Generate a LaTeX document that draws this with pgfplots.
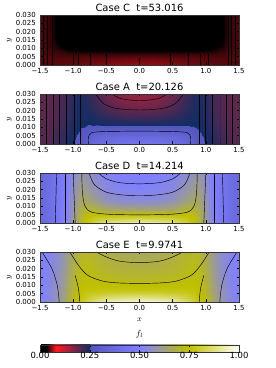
\documentclass[border=0pt]{standalone}
\usepackage{fontspec}
\setmainfont{DejaVu Sans}
\usepackage{pgfplots}
\pgfplotsset{compat=1.18}
\definecolor{axgray}{gray}{0.2}
\pgfplotsset{
 colormap={fl}{rgb255(0)=(0,0,0) rgb255(30)=(0,0,0) rgb255(80)=(255,25,35) rgb255(249)=(15,45,100) rgb255(250)=(85,85,190) rgb255(500)=(128,128,255) rgb255(750)=(192,192,0) rgb255(1000)=(255,255,255)},
 pan/.style={scale only axis, width=199bp, height=50bp, xmin=-1.5, xmax=1.5, ymin=0, ymax=0.03,
  colormap name=fl, point meta min=0, point meta max=1, axis on top, tick align=inside, major tick length=2.5bp,
  xtick={-1.5,-1,-0.5,0,0.5,1,1.5}, xticklabels={−1.5,−1.0,−0.5,0.0,0.5,1.0,1.5},
  ytick={0,0.005,0.01,0.015,0.02,0.025,0.03}, yticklabels={0.000,0.005,0.010,0.015,0.020,0.025,0.030},
  scaled y ticks=false, scaled x ticks=false,
  tick label style={font=\fontsize{7}{7}\selectfont, inner sep=0.5bp},
  xticklabel style={yshift=-3bp}, yticklabel style={xshift=-3.5bp},
  title style={font=\fontsize{10}{10}\selectfont, at={(0.5,1)}, anchor=south, inner sep=0pt, yshift=-3bp},
  ylabel={$y$}, ylabel style={font=\fontsize{8}{8}\selectfont},
  axis line style={axgray, line width=0.7bp}, every tick/.style={black, line width=0.5bp}, anchor=south west},
 cl/.style={black, line width=0.45bp, no marks, smooth},
 sf/.style={surf, shader=interp, mesh/cols=23, point meta=\thisrow{f}},
}
\begin{document}
\begin{tikzpicture}
\useasboundingbox (0,0) rectangle (276bp,368bp);
% ---------------- Case C
\begin{axis}[pan, at={(40bp,303bp)}, title={Case C\ \ t=53.016}]
\addplot[sf] table[row sep=\\] {x y f\\
-1.5 0 .046\\ -1.4 0 .046\\ -1.3 0 .047\\ -1.2 0 .047\\ -1.1 0 .048\\ -1 0 .049\\ -.9 0 .05\\ -.8 0 .052\\ -.7 0 .053\\ -.5 0 .056\\ -.25 0 .058\\ 0 0 .06\\ .25 0 .058\\ .5 0 .056\\ .7 0 .053\\ .8 0 .052\\ .9 0 .05\\ 1 0 .049\\ 1.1 0 .048\\ 1.2 0 .047\\ 1.3 0 .047\\ 1.4 0 .046\\ 1.5 0 .046\\
-1.5 .002 .046\\ -1.4 .002 .046\\ -1.3 .002 .047\\ -1.2 .002 .047\\ -1.1 .002 .047\\ -1 .002 .048\\ -.9 .002 .049\\ -.8 .002 .05\\ -.7 .002 .051\\ -.5 .002 .053\\ -.25 .002 .055\\ 0 .002 .056\\ .25 .002 .055\\ .5 .002 .053\\ .7 .002 .051\\ .8 .002 .05\\ .9 .002 .049\\ 1 .002 .048\\ 1.1 .002 .047\\ 1.2 .002 .047\\ 1.3 .002 .047\\ 1.4 .002 .046\\ 1.5 .002 .046\\
-1.5 .004 .046\\ -1.4 .004 .046\\ -1.3 .004 .046\\ -1.2 .004 .046\\ -1.1 .004 .046\\ -1 .004 .046\\ -.9 .004 .046\\ -.8 .004 .047\\ -.7 .004 .047\\ -.5 .004 .048\\ -.25 .004 .049\\ 0 .004 .05\\ .25 .004 .049\\ .5 .004 .048\\ .7 .004 .047\\ .8 .004 .047\\ .9 .004 .046\\ 1 .004 .046\\ 1.1 .004 .046\\ 1.2 .004 .046\\ 1.3 .004 .046\\ 1.4 .004 .046\\ 1.5 .004 .046\\
-1.5 .006 .045\\ -1.4 .006 .045\\ -1.3 .006 .044\\ -1.2 .006 .043\\ -1.1 .006 .043\\ -1 .006 .043\\ -.9 .006 .043\\ -.8 .006 .043\\ -.7 .006 .043\\ -.5 .006 .043\\ -.25 .006 .043\\ 0 .006 .043\\ .25 .006 .043\\ .5 .006 .043\\ .7 .006 .043\\ .8 .006 .043\\ .9 .006 .043\\ 1 .006 .043\\ 1.1 .006 .043\\ 1.2 .006 .043\\ 1.3 .006 .044\\ 1.4 .006 .045\\ 1.5 .006 .045\\
-1.5 .008 .045\\ -1.4 .008 .044\\ -1.3 .008 .042\\ -1.2 .008 .04\\ -1.1 .008 .037\\ -1 .008 .036\\ -.9 .008 .035\\ -.8 .008 .035\\ -.7 .008 .035\\ -.5 .008 .035\\ -.25 .008 .035\\ 0 .008 .035\\ .25 .008 .035\\ .5 .008 .035\\ .7 .008 .035\\ .8 .008 .035\\ .9 .008 .035\\ 1 .008 .036\\ 1.1 .008 .037\\ 1.2 .008 .04\\ 1.3 .008 .042\\ 1.4 .008 .044\\ 1.5 .008 .045\\
-1.5 .01 .045\\ -1.4 .01 .043\\ -1.3 .01 .039\\ -1.2 .01 .034\\ -1.1 .01 .028\\ -1 .01 .025\\ -.9 .01 .024\\ -.8 .01 .024\\ -.7 .01 .024\\ -.5 .01 .024\\ -.25 .01 .024\\ 0 .01 .024\\ .25 .01 .024\\ .5 .01 .024\\ .7 .01 .024\\ .8 .01 .024\\ .9 .01 .024\\ 1 .01 .025\\ 1.1 .01 .028\\ 1.2 .01 .034\\ 1.3 .01 .039\\ 1.4 .01 .043\\ 1.5 .01 .045\\
-1.5 .012 .045\\ -1.4 .012 .042\\ -1.3 .012 .038\\ -1.2 .012 .03\\ -1.1 .012 .02\\ -1 .012 .015\\ -.9 .012 .014\\ -.8 .012 .014\\ -.7 .012 .014\\ -.5 .012 .014\\ -.25 .012 .014\\ 0 .012 .014\\ .25 .012 .014\\ .5 .012 .014\\ .7 .012 .014\\ .8 .012 .014\\ .9 .012 .014\\ 1 .012 .015\\ 1.1 .012 .02\\ 1.2 .012 .03\\ 1.3 .012 .038\\ 1.4 .012 .042\\ 1.5 .012 .045\\
-1.5 .015 .045\\ -1.4 .015 .042\\ -1.3 .015 .037\\ -1.2 .015 .024\\ -1.1 .015 .014\\ -1 .015 .011\\ -.9 .015 .01\\ -.8 .015 .01\\ -.7 .015 .01\\ -.5 .015 .01\\ -.25 .015 .01\\ 0 .015 .01\\ .25 .015 .01\\ .5 .015 .01\\ .7 .015 .01\\ .8 .015 .01\\ .9 .015 .01\\ 1 .015 .011\\ 1.1 .015 .014\\ 1.2 .015 .024\\ 1.3 .015 .037\\ 1.4 .015 .042\\ 1.5 .015 .045\\
-1.5 .02 .045\\ -1.4 .02 .042\\ -1.3 .02 .036\\ -1.2 .02 .02\\ -1.1 .02 .012\\ -1 .02 .01\\ -.9 .02 .01\\ -.8 .02 .01\\ -.7 .02 .01\\ -.5 .02 .01\\ -.25 .02 .01\\ 0 .02 .01\\ .25 .02 .01\\ .5 .02 .01\\ .7 .02 .01\\ .8 .02 .01\\ .9 .02 .01\\ 1 .02 .01\\ 1.1 .02 .012\\ 1.2 .02 .02\\ 1.3 .02 .036\\ 1.4 .02 .042\\ 1.5 .02 .045\\
-1.5 .025 .045\\ -1.4 .025 .042\\ -1.3 .025 .036\\ -1.2 .025 .02\\ -1.1 .025 .012\\ -1 .025 .01\\ -.9 .025 .01\\ -.8 .025 .01\\ -.7 .025 .01\\ -.5 .025 .01\\ -.25 .025 .01\\ 0 .025 .01\\ .25 .025 .01\\ .5 .025 .01\\ .7 .025 .01\\ .8 .025 .01\\ .9 .025 .01\\ 1 .025 .01\\ 1.1 .025 .012\\ 1.2 .025 .02\\ 1.3 .025 .036\\ 1.4 .025 .042\\ 1.5 .025 .045\\
-1.5 .03 .045\\ -1.4 .03 .042\\ -1.3 .03 .036\\ -1.2 .03 .02\\ -1.1 .03 .012\\ -1 .03 .01\\ -.9 .03 .01\\ -.8 .03 .01\\ -.7 .03 .01\\ -.5 .03 .01\\ -.25 .03 .01\\ 0 .03 .01\\ .25 .03 .01\\ .5 .03 .01\\ .7 .03 .01\\ .8 .03 .01\\ .9 .03 .01\\ 1 .03 .01\\ 1.1 .03 .012\\ 1.2 .03 .02\\ 1.3 .03 .036\\ 1.4 .03 .042\\ 1.5 .03 .045\\
};
\addplot[cl] coordinates {(-1.45,0)(-1.45,.03)};
\addplot[cl] coordinates {(-1.39,0)(-1.39,.03)};
\addplot[cl] coordinates {(-1.32,0)(-1.32,.03)};
\addplot[cl] coordinates {(1.34,0)(1.34,.03)};
\addplot[cl] coordinates {(1.39,0)(1.39,.03)};
\addplot[cl] coordinates {(1.44,0)(1.44,.03)};
\addplot[cl] coordinates {(-1,0)(-1,.0065)};
\addplot[cl] coordinates {(-.92,0)(-.92,.0065)};
\addplot[cl] coordinates {(-.75,0)(-.75,.0065)};
\addplot[cl] coordinates {(-.5,0)(-.5,.0065)};
\addplot[cl] coordinates {(0,0)(0,.004)};
\addplot[cl] coordinates {(.46,0)(.46,.0065)};
\addplot[cl] coordinates {(.74,0)(.74,.0065)};
\addplot[cl] coordinates {(.91,0)(.91,.0065)};
\addplot[cl] coordinates {(1.04,0)(1.04,.0065)};
\end{axis}
% ---------------- Case A
\begin{axis}[pan, at={(40bp,224bp)}, title={Case A\ \ t=20.126}]
\addplot[sf] table[row sep=\\] {x y f\\
-1.5 0 .198\\ -1.4 0 .201\\ -1.3 0 .209\\ -1.2 0 .221\\ -1.1 0 .237\\ -1 0 .248\\ -.9 0 .26\\ -.8 0 .3\\ -.7 0 .355\\ -.5 0 .405\\ -.25 0 .425\\ 0 0 .43\\ .25 0 .425\\ .5 0 .405\\ .7 0 .355\\ .8 0 .3\\ .9 0 .26\\ 1 0 .248\\ 1.1 0 .237\\ 1.2 0 .221\\ 1.3 0 .209\\ 1.4 0 .201\\ 1.5 0 .198\\
-1.5 .002 .197\\ -1.4 .002 .2\\ -1.3 .002 .208\\ -1.2 .002 .22\\ -1.1 .002 .236\\ -1 .002 .247\\ -.9 .002 .258\\ -.8 .002 .29\\ -.7 .002 .345\\ -.5 .002 .385\\ -.25 .002 .4\\ 0 .002 .405\\ .25 .002 .4\\ .5 .002 .385\\ .7 .002 .345\\ .8 .002 .29\\ .9 .002 .258\\ 1 .002 .247\\ 1.1 .002 .236\\ 1.2 .002 .22\\ 1.3 .002 .208\\ 1.4 .002 .2\\ 1.5 .002 .197\\
-1.5 .004 .197\\ -1.4 .004 .2\\ -1.3 .004 .207\\ -1.2 .004 .219\\ -1.1 .004 .235\\ -1 .004 .246\\ -.9 .004 .255\\ -.8 .004 .28\\ -.7 .004 .33\\ -.5 .004 .36\\ -.25 .004 .37\\ 0 .004 .375\\ .25 .004 .37\\ .5 .004 .36\\ .7 .004 .33\\ .8 .004 .28\\ .9 .004 .255\\ 1 .004 .246\\ 1.1 .004 .235\\ 1.2 .004 .219\\ 1.3 .004 .207\\ 1.4 .004 .2\\ 1.5 .004 .197\\
-1.5 .006 .196\\ -1.4 .006 .199\\ -1.3 .006 .206\\ -1.2 .006 .217\\ -1.1 .006 .233\\ -1 .006 .245\\ -.9 .006 .252\\ -.8 .006 .27\\ -.7 .006 .305\\ -.5 .006 .33\\ -.25 .006 .338\\ 0 .006 .34\\ .25 .006 .338\\ .5 .006 .33\\ .7 .006 .305\\ .8 .006 .27\\ .9 .006 .252\\ 1 .006 .245\\ 1.1 .006 .233\\ 1.2 .006 .217\\ 1.3 .006 .206\\ 1.4 .006 .199\\ 1.5 .006 .196\\
-1.5 .008 .195\\ -1.4 .008 .198\\ -1.3 .008 .205\\ -1.2 .008 .215\\ -1.1 .008 .231\\ -1 .008 .244\\ -.9 .008 .25\\ -.8 .008 .26\\ -.7 .008 .28\\ -.5 .008 .295\\ -.25 .008 .3\\ 0 .008 .3\\ .25 .008 .3\\ .5 .008 .295\\ .7 .008 .28\\ .8 .008 .26\\ .9 .008 .25\\ 1 .008 .244\\ 1.1 .008 .231\\ 1.2 .008 .215\\ 1.3 .008 .205\\ 1.4 .008 .198\\ 1.5 .008 .195\\
-1.5 .01 .194\\ -1.4 .01 .197\\ -1.3 .01 .203\\ -1.2 .01 .213\\ -1.1 .01 .228\\ -1 .01 .242\\ -.9 .01 .248\\ -.8 .01 .25\\ -.7 .01 .255\\ -.5 .01 .257\\ -.25 .01 .258\\ 0 .01 .258\\ .25 .01 .258\\ .5 .01 .257\\ .7 .01 .255\\ .8 .01 .25\\ .9 .01 .248\\ 1 .01 .242\\ 1.1 .01 .228\\ 1.2 .01 .213\\ 1.3 .01 .203\\ 1.4 .01 .197\\ 1.5 .01 .194\\
-1.5 .012 .193\\ -1.4 .012 .196\\ -1.3 .012 .201\\ -1.2 .012 .211\\ -1.1 .012 .225\\ -1 .012 .24\\ -.9 .012 .247\\ -.8 .012 .248\\ -.7 .012 .246\\ -.5 .012 .244\\ -.25 .012 .242\\ 0 .012 .242\\ .25 .012 .242\\ .5 .012 .244\\ .7 .012 .246\\ .8 .012 .248\\ .9 .012 .247\\ 1 .012 .24\\ 1.1 .012 .225\\ 1.2 .012 .211\\ 1.3 .012 .201\\ 1.4 .012 .196\\ 1.5 .012 .193\\
-1.5 .015 .192\\ -1.4 .015 .195\\ -1.3 .015 .2\\ -1.2 .015 .209\\ -1.1 .015 .222\\ -1 .015 .238\\ -.9 .015 .246\\ -.8 .015 .245\\ -.7 .015 .24\\ -.5 .015 .232\\ -.25 .015 .224\\ 0 .015 .222\\ .25 .015 .224\\ .5 .015 .232\\ .7 .015 .24\\ .8 .015 .245\\ .9 .015 .246\\ 1 .015 .238\\ 1.1 .015 .222\\ 1.2 .015 .209\\ 1.3 .015 .2\\ 1.4 .015 .195\\ 1.5 .015 .192\\
-1.5 .02 .191\\ -1.4 .02 .194\\ -1.3 .02 .199\\ -1.2 .02 .207\\ -1.1 .02 .219\\ -1 .02 .236\\ -.9 .02 .244\\ -.8 .02 .24\\ -.7 .02 .23\\ -.5 .02 .21\\ -.25 .02 .195\\ 0 .02 .19\\ .25 .02 .195\\ .5 .02 .21\\ .7 .02 .23\\ .8 .02 .24\\ .9 .02 .244\\ 1 .02 .236\\ 1.1 .02 .219\\ 1.2 .02 .207\\ 1.3 .02 .199\\ 1.4 .02 .194\\ 1.5 .02 .191\\
-1.5 .025 .19\\ -1.4 .025 .193\\ -1.3 .025 .198\\ -1.2 .025 .206\\ -1.1 .025 .217\\ -1 .025 .234\\ -.9 .025 .242\\ -.8 .025 .236\\ -.7 .025 .222\\ -.5 .025 .195\\ -.25 .025 .172\\ 0 .025 .165\\ .25 .025 .172\\ .5 .025 .195\\ .7 .025 .222\\ .8 .025 .236\\ .9 .025 .242\\ 1 .025 .234\\ 1.1 .025 .217\\ 1.2 .025 .206\\ 1.3 .025 .198\\ 1.4 .025 .193\\ 1.5 .025 .19\\
-1.5 .03 .19\\ -1.4 .03 .193\\ -1.3 .03 .198\\ -1.2 .03 .205\\ -1.1 .03 .215\\ -1 .03 .232\\ -.9 .03 .24\\ -.8 .03 .232\\ -.7 .03 .215\\ -.5 .03 .185\\ -.25 .03 .16\\ 0 .03 .15\\ .25 .03 .16\\ .5 .03 .185\\ .7 .03 .215\\ .8 .03 .232\\ .9 .03 .24\\ 1 .03 .232\\ 1.1 .03 .215\\ 1.2 .03 .205\\ 1.3 .03 .198\\ 1.4 .03 .193\\ 1.5 .03 .19\\
};
\addplot[cl] coordinates {(-.42,.03)(-.3,.0275)(-.15,.0264)(0,.0261)(.15,.0264)(.3,.0275)(.42,.03)};
\addplot[cl] coordinates {(-.66,.03)(-.55,.0245)(-.4,.0218)(-.2,.0207)(0,.0204)(.2,.0207)(.4,.0218)(.55,.0245)(.66,.03)};
\addplot[cl] coordinates {(-.77,0)(-.77,.004)(-.72,.0068)(-.5,.0075)(0,.0077)(.5,.0075)(.72,.0068)(.77,.004)(.77,0)};
\addplot[cl] coordinates {(-.9,0)(-.9,.03)};
\addplot[cl] coordinates {(-.99,0)(-.99,.03)};
\addplot[cl] coordinates {(-1.1,0)(-1.1,.03)};
\addplot[cl] coordinates {(-1.21,0)(-1.21,.03)};
\addplot[cl] coordinates {(-1.3,0)(-1.3,.03)};
\addplot[cl] coordinates {(-1.4,0)(-1.4,.03)};
\addplot[cl] coordinates {(.9,0)(.9,.03)};
\addplot[cl] coordinates {(.99,0)(.99,.03)};
\addplot[cl] coordinates {(1.1,0)(1.1,.03)};
\addplot[cl] coordinates {(1.21,0)(1.21,.03)};
\addplot[cl] coordinates {(1.3,0)(1.3,.03)};
\addplot[cl] coordinates {(1.4,0)(1.4,.03)};
\end{axis}
% ---------------- Case D
\begin{axis}[pan, at={(40bp,145bp)}, title={Case D\ \ t=14.214}]
\addplot[sf] table[row sep=\\] {x y f\\
-1.5 0 .37\\ -1.4 0 .39\\ -1.3 0 .42\\ -1.2 0 .47\\ -1.1 0 .52\\ -1 0 .6\\ -.9 0 .7\\ -.8 0 .76\\ -.7 0 .81\\ -.5 0 .88\\ -.25 0 .92\\ 0 0 .93\\ .25 0 .92\\ .5 0 .88\\ .7 0 .81\\ .8 0 .76\\ .9 0 .7\\ 1 0 .6\\ 1.1 0 .52\\ 1.2 0 .47\\ 1.3 0 .42\\ 1.4 0 .39\\ 1.5 0 .37\\
-1.5 .002 .37\\ -1.4 .002 .39\\ -1.3 .002 .42\\ -1.2 .002 .47\\ -1.1 .002 .52\\ -1 .002 .595\\ -.9 .002 .7\\ -.8 .002 .75\\ -.7 .002 .79\\ -.5 .002 .83\\ -.25 .002 .85\\ 0 .002 .86\\ .25 .002 .85\\ .5 .002 .83\\ .7 .002 .79\\ .8 .002 .75\\ .9 .002 .7\\ 1 .002 .595\\ 1.1 .002 .52\\ 1.2 .002 .47\\ 1.3 .002 .42\\ 1.4 .002 .39\\ 1.5 .002 .37\\
-1.5 .004 .37\\ -1.4 .004 .39\\ -1.3 .004 .42\\ -1.2 .004 .47\\ -1.1 .004 .52\\ -1 .004 .59\\ -.9 .004 .69\\ -.8 .004 .74\\ -.7 .004 .76\\ -.5 .004 .77\\ -.25 .004 .775\\ 0 .004 .78\\ .25 .004 .775\\ .5 .004 .77\\ .7 .004 .76\\ .8 .004 .74\\ .9 .004 .69\\ 1 .004 .59\\ 1.1 .004 .52\\ 1.2 .004 .47\\ 1.3 .004 .42\\ 1.4 .004 .39\\ 1.5 .004 .37\\
-1.5 .006 .37\\ -1.4 .006 .39\\ -1.3 .006 .42\\ -1.2 .006 .465\\ -1.1 .006 .515\\ -1 .006 .59\\ -.9 .006 .68\\ -.8 .006 .72\\ -.7 .006 .73\\ -.5 .006 .71\\ -.25 .006 .71\\ 0 .006 .71\\ .25 .006 .71\\ .5 .006 .71\\ .7 .006 .73\\ .8 .006 .72\\ .9 .006 .68\\ 1 .006 .59\\ 1.1 .006 .515\\ 1.2 .006 .465\\ 1.3 .006 .42\\ 1.4 .006 .39\\ 1.5 .006 .37\\
-1.5 .008 .37\\ -1.4 .008 .39\\ -1.3 .008 .42\\ -1.2 .008 .465\\ -1.1 .008 .515\\ -1 .008 .585\\ -.9 .008 .67\\ -.8 .008 .7\\ -.7 .008 .7\\ -.5 .008 .66\\ -.25 .008 .65\\ 0 .008 .65\\ .25 .008 .65\\ .5 .008 .66\\ .7 .008 .7\\ .8 .008 .7\\ .9 .008 .67\\ 1 .008 .585\\ 1.1 .008 .515\\ 1.2 .008 .465\\ 1.3 .008 .42\\ 1.4 .008 .39\\ 1.5 .008 .37\\
-1.5 .01 .37\\ -1.4 .01 .39\\ -1.3 .01 .42\\ -1.2 .01 .46\\ -1.1 .01 .51\\ -1 .01 .58\\ -.9 .01 .66\\ -.8 .01 .68\\ -.7 .01 .67\\ -.5 .01 .62\\ -.25 .01 .6\\ 0 .01 .6\\ .25 .01 .6\\ .5 .01 .62\\ .7 .01 .67\\ .8 .01 .68\\ .9 .01 .66\\ 1 .01 .58\\ 1.1 .01 .51\\ 1.2 .01 .46\\ 1.3 .01 .42\\ 1.4 .01 .39\\ 1.5 .01 .37\\
-1.5 .012 .37\\ -1.4 .012 .39\\ -1.3 .012 .42\\ -1.2 .012 .46\\ -1.1 .012 .51\\ -1 .012 .575\\ -.9 .012 .65\\ -.8 .012 .66\\ -.7 .012 .64\\ -.5 .012 .59\\ -.25 .012 .565\\ 0 .012 .56\\ .25 .012 .565\\ .5 .012 .59\\ .7 .012 .64\\ .8 .012 .66\\ .9 .012 .65\\ 1 .012 .575\\ 1.1 .012 .51\\ 1.2 .012 .46\\ 1.3 .012 .42\\ 1.4 .012 .39\\ 1.5 .012 .37\\
-1.5 .015 .37\\ -1.4 .015 .39\\ -1.3 .015 .42\\ -1.2 .015 .46\\ -1.1 .015 .51\\ -1 .015 .57\\ -.9 .015 .64\\ -.8 .015 .64\\ -.7 .015 .61\\ -.5 .015 .56\\ -.25 .015 .535\\ 0 .015 .53\\ .25 .015 .535\\ .5 .015 .56\\ .7 .015 .61\\ .8 .015 .64\\ .9 .015 .64\\ 1 .015 .57\\ 1.1 .015 .51\\ 1.2 .015 .46\\ 1.3 .015 .42\\ 1.4 .015 .39\\ 1.5 .015 .37\\
-1.5 .02 .37\\ -1.4 .02 .39\\ -1.3 .02 .42\\ -1.2 .02 .46\\ -1.1 .02 .5\\ -1 .02 .56\\ -.9 .02 .62\\ -.8 .02 .61\\ -.7 .02 .58\\ -.5 .02 .535\\ -.25 .02 .515\\ 0 .02 .51\\ .25 .02 .515\\ .5 .02 .535\\ .7 .02 .58\\ .8 .02 .61\\ .9 .02 .62\\ 1 .02 .56\\ 1.1 .02 .5\\ 1.2 .02 .46\\ 1.3 .02 .42\\ 1.4 .02 .39\\ 1.5 .02 .37\\
-1.5 .025 .37\\ -1.4 .025 .39\\ -1.3 .025 .42\\ -1.2 .025 .46\\ -1.1 .025 .5\\ -1 .025 .55\\ -.9 .025 .6\\ -.8 .025 .59\\ -.7 .025 .56\\ -.5 .025 .52\\ -.25 .025 .505\\ 0 .025 .5\\ .25 .025 .505\\ .5 .025 .52\\ .7 .025 .56\\ .8 .025 .59\\ .9 .025 .6\\ 1 .025 .55\\ 1.1 .025 .5\\ 1.2 .025 .46\\ 1.3 .025 .42\\ 1.4 .025 .39\\ 1.5 .025 .37\\
-1.5 .03 .37\\ -1.4 .03 .39\\ -1.3 .03 .42\\ -1.2 .03 .45\\ -1.1 .03 .49\\ -1 .03 .54\\ -.9 .03 .58\\ -.8 .03 .57\\ -.7 .03 .54\\ -.5 .03 .51\\ -.25 .03 .5\\ 0 .03 .5\\ .25 .03 .5\\ .5 .03 .51\\ .7 .03 .54\\ .8 .03 .57\\ .9 .03 .58\\ 1 .03 .54\\ 1.1 .03 .49\\ 1.2 .03 .45\\ 1.3 .03 .42\\ 1.4 .03 .39\\ 1.5 .03 .37\\
};
\addplot[cl] coordinates {(-.62,.03)(-.5,.0265)(-.3,.0242)(0,.0235)(.3,.0242)(.5,.0265)(.62,.03)};
\addplot[cl] coordinates {(-.76,.03)(-.68,.023)(-.5,.0185)(-.25,.0168)(0,.0165)(.25,.0168)(.5,.0185)(.68,.023)(.76,.03)};
\addplot[cl] coordinates {(-.87,.03)(-.86,.018)(-.82,.01)(-.72,.0065)(-.45,.0052)(0,.0049)(.45,.0052)(.72,.0065)(.82,.01)(.86,.018)(.87,.03)};
\addplot[cl] coordinates {(-.97,0)(-1,.03)};
\addplot[cl] coordinates {(-1.12,0)(-1.12,.03)};
\addplot[cl] coordinates {(-1.27,0)(-1.25,.03)};
\addplot[cl] coordinates {(.97,0)(1,.03)};
\addplot[cl] coordinates {(1.12,0)(1.12,.03)};
\addplot[cl] coordinates {(1.27,0)(1.25,.03)};
\end{axis}
% ---------------- Case E
\begin{axis}[pan, at={(40bp,66bp)}, title={Case E\ \ t=9.9741}, xlabel={$x$}, xlabel style={font=\fontsize{8}{8}\selectfont, yshift=-3bp},
  colorbar horizontal, colorbar shift/.style={},
  colorbar style={at={(parent axis.south west)}, anchor=north west, yshift=-43bp, scale only axis, width=199bp, height=7bp,
   xtick={0,0.25,0.5,0.75,1}, xticklabels={0.00,0.25,0.50,0.75,1.00}, tick label style={font=\fontsize{8.5}{8.5}\selectfont, inner sep=0.5bp},
   tick align=inside, major tick length=2.5bp, xtick pos=both, xticklabel pos=left, every tick/.style={black, line width=0.5bp},
   axis line style={axgray, line width=0.7bp},
   title={$f_l$}, title style={at={(0.5,1)}, anchor=south, inner sep=1bp, font=\fontsize{9}{9}\selectfont}}]
\addplot[sf] table[row sep=\\] {x y f\\
-1.5 0 .505\\ -1.4 0 .52\\ -1.3 0 .555\\ -1.2 0 .595\\ -1.1 0 .66\\ -1 0 .72\\ -.9 0 .765\\ -.8 0 .81\\ -.7 0 .86\\ -.5 0 .93\\ -.25 0 .96\\ 0 0 .97\\ .25 0 .96\\ .5 0 .93\\ .7 0 .86\\ .8 0 .81\\ .9 0 .765\\ 1 0 .72\\ 1.1 0 .66\\ 1.2 0 .595\\ 1.3 0 .555\\ 1.4 0 .52\\ 1.5 0 .505\\
-1.5 .002 .505\\ -1.4 .002 .52\\ -1.3 .002 .55\\ -1.2 .002 .595\\ -1.1 .002 .66\\ -1 .002 .72\\ -.9 .002 .76\\ -.8 .002 .795\\ -.7 .002 .83\\ -.5 .002 .88\\ -.25 .002 .9\\ 0 .002 .91\\ .25 .002 .9\\ .5 .002 .88\\ .7 .002 .83\\ .8 .002 .795\\ .9 .002 .76\\ 1 .002 .72\\ 1.1 .002 .66\\ 1.2 .002 .595\\ 1.3 .002 .55\\ 1.4 .002 .52\\ 1.5 .002 .505\\
-1.5 .004 .505\\ -1.4 .004 .52\\ -1.3 .004 .55\\ -1.2 .004 .59\\ -1.1 .004 .655\\ -1 .004 .715\\ -.9 .004 .755\\ -.8 .004 .78\\ -.7 .004 .8\\ -.5 .004 .82\\ -.25 .004 .835\\ 0 .004 .84\\ .25 .004 .835\\ .5 .004 .82\\ .7 .004 .8\\ .8 .004 .78\\ .9 .004 .755\\ 1 .004 .715\\ 1.1 .004 .655\\ 1.2 .004 .59\\ 1.3 .004 .55\\ 1.4 .004 .52\\ 1.5 .004 .505\\
-1.5 .006 .505\\ -1.4 .006 .52\\ -1.3 .006 .55\\ -1.2 .006 .59\\ -1.1 .006 .65\\ -1 .006 .71\\ -.9 .006 .75\\ -.8 .006 .765\\ -.7 .006 .775\\ -.5 .006 .785\\ -.25 .006 .79\\ 0 .006 .79\\ .25 .006 .79\\ .5 .006 .785\\ .7 .006 .775\\ .8 .006 .765\\ .9 .006 .75\\ 1 .006 .71\\ 1.1 .006 .65\\ 1.2 .006 .59\\ 1.3 .006 .55\\ 1.4 .006 .52\\ 1.5 .006 .505\\
-1.5 .008 .505\\ -1.4 .008 .52\\ -1.3 .008 .545\\ -1.2 .008 .585\\ -1.1 .008 .645\\ -1 .008 .705\\ -.9 .008 .745\\ -.8 .008 .755\\ -.7 .008 .76\\ -.5 .008 .76\\ -.25 .008 .76\\ 0 .008 .76\\ .25 .008 .76\\ .5 .008 .76\\ .7 .008 .76\\ .8 .008 .755\\ .9 .008 .745\\ 1 .008 .705\\ 1.1 .008 .645\\ 1.2 .008 .585\\ 1.3 .008 .545\\ 1.4 .008 .52\\ 1.5 .008 .505\\
-1.5 .01 .505\\ -1.4 .01 .52\\ -1.3 .01 .545\\ -1.2 .01 .58\\ -1.1 .01 .64\\ -1 .01 .7\\ -.9 .01 .74\\ -.8 .01 .75\\ -.7 .01 .75\\ -.5 .01 .745\\ -.25 .01 .745\\ 0 .01 .745\\ .25 .01 .745\\ .5 .01 .745\\ .7 .01 .75\\ .8 .01 .75\\ .9 .01 .74\\ 1 .01 .7\\ 1.1 .01 .64\\ 1.2 .01 .58\\ 1.3 .01 .545\\ 1.4 .01 .52\\ 1.5 .01 .505\\
-1.5 .012 .505\\ -1.4 .012 .515\\ -1.3 .012 .54\\ -1.2 .012 .58\\ -1.1 .012 .635\\ -1 .012 .695\\ -.9 .012 .735\\ -.8 .012 .745\\ -.7 .012 .74\\ -.5 .012 .735\\ -.25 .012 .73\\ 0 .012 .73\\ .25 .012 .73\\ .5 .012 .735\\ .7 .012 .74\\ .8 .012 .745\\ .9 .012 .735\\ 1 .012 .695\\ 1.1 .012 .635\\ 1.2 .012 .58\\ 1.3 .012 .54\\ 1.4 .012 .515\\ 1.5 .012 .505\\
-1.5 .015 .5\\ -1.4 .015 .515\\ -1.3 .015 .54\\ -1.2 .015 .575\\ -1.1 .015 .63\\ -1 .015 .69\\ -.9 .015 .73\\ -.8 .015 .74\\ -.7 .015 .73\\ -.5 .015 .72\\ -.25 .015 .71\\ 0 .015 .71\\ .25 .015 .71\\ .5 .015 .72\\ .7 .015 .73\\ .8 .015 .74\\ .9 .015 .73\\ 1 .015 .69\\ 1.1 .015 .63\\ 1.2 .015 .575\\ 1.3 .015 .54\\ 1.4 .015 .515\\ 1.5 .015 .5\\
-1.5 .02 .5\\ -1.4 .02 .51\\ -1.3 .02 .535\\ -1.2 .02 .57\\ -1.1 .02 .62\\ -1 .02 .68\\ -.9 .02 .72\\ -.8 .02 .73\\ -.7 .02 .72\\ -.5 .02 .7\\ -.25 .02 .69\\ 0 .02 .69\\ .25 .02 .69\\ .5 .02 .7\\ .7 .02 .72\\ .8 .02 .73\\ .9 .02 .72\\ 1 .02 .68\\ 1.1 .02 .62\\ 1.2 .02 .57\\ 1.3 .02 .535\\ 1.4 .02 .51\\ 1.5 .02 .5\\
-1.5 .025 .5\\ -1.4 .025 .51\\ -1.3 .025 .53\\ -1.2 .025 .565\\ -1.1 .025 .615\\ -1 .025 .67\\ -.9 .025 .71\\ -.8 .025 .72\\ -.7 .025 .71\\ -.5 .025 .69\\ -.25 .025 .675\\ 0 .025 .67\\ .25 .025 .675\\ .5 .025 .69\\ .7 .025 .71\\ .8 .025 .72\\ .9 .025 .71\\ 1 .025 .67\\ 1.1 .025 .615\\ 1.2 .025 .565\\ 1.3 .025 .53\\ 1.4 .025 .51\\ 1.5 .025 .5\\
-1.5 .03 .5\\ -1.4 .03 .51\\ -1.3 .03 .53\\ -1.2 .03 .56\\ -1.1 .03 .61\\ -1 .03 .66\\ -.9 .03 .7\\ -.8 .03 .71\\ -.7 .03 .7\\ -.5 .03 .68\\ -.25 .03 .665\\ 0 .03 .66\\ .25 .03 .665\\ .5 .03 .68\\ .7 .03 .7\\ .8 .03 .71\\ .9 .03 .7\\ 1 .03 .66\\ 1.1 .03 .61\\ 1.2 .03 .56\\ 1.3 .03 .53\\ 1.4 .03 .51\\ 1.5 .03 .5\\
};
\addplot[cl] coordinates {(-.65,.03)(-.5,.027)(-.3,.0245)(0,.0236)(.3,.0245)(.5,.027)(.65,.03)};
\addplot[cl] coordinates {(-1.05,.03)(-.92,.022)(-.78,.016)(-.55,.0125)(-.3,.0114)(0,.0112)(.3,.0114)(.55,.0125)(.78,.016)(.92,.022)(1.05,.03)};
\addplot[cl] coordinates {(-1.21,0)(-1.24,.01)(-1.32,.02)(-1.47,.03)};
\addplot[cl] coordinates {(1.21,0)(1.24,.01)(1.32,.02)(1.47,.03)};
\addplot[cl] coordinates {(-.9,0)(-.92,.008)(-.97,.016)};
\addplot[cl] coordinates {(.9,0)(.92,.008)(.97,.016)};
\end{axis}
\end{tikzpicture}
\end{document}
